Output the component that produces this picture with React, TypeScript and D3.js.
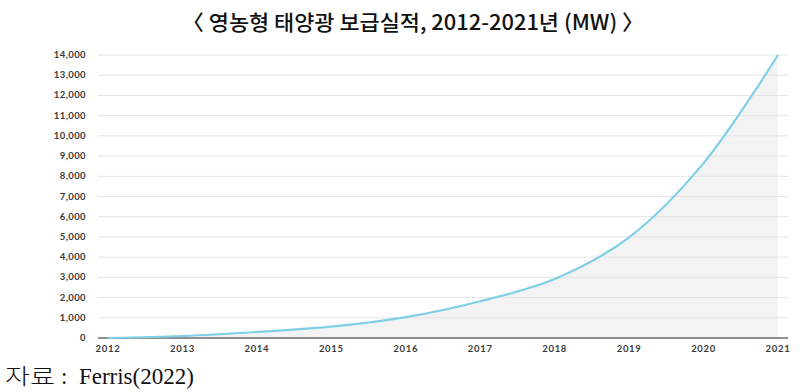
import React, { useEffect, useRef } from 'react';
import * as d3 from 'd3';

const years = [2012, 2013, 2014, 2015, 2016, 2017, 2018, 2019, 2020, 2021];
const capacity = [0, 100, 300, 560, 1030, 1820, 2920, 4980, 8650, 14000];
const yTicks = [0, 1000, 2000, 3000, 4000, 5000, 6000, 7000, 8000, 9000, 10000, 11000, 12000, 13000, 14000];
const titleText = '〈 영농형 태양광 보급실적, 2012-2021년 (MW) 〉';
const sourceLabel = '자료';
const sourceRef = ':  Ferris(2022)';

export default function App(): JSX.Element {
  const svgRef = useRef<SVGSVGElement>(null);

  useEffect(() => {
    const svgEle = svgRef.current;
    if (svgEle == null) {
      return;
    }
    const svg = d3.select(svgEle);
    svg.selectAll('*').remove();

    const W = 800;
    const H = 392;
    const plot = { left: 98, right: 788, top: 55, bottom: 338 };

    const x = d3.scaleLinear().domain([2012, 2021]).range([108, 778]);
    const y = d3.scaleLinear().domain([0, 14000]).range([plot.bottom, plot.top]);

    svg.attr('width', W).attr('height', H);
    svg.append('rect').attr('width', W).attr('height', H).attr('fill', '#ffffff');

    // title
    svg
      .append('text')
      .attr('x', 413)
      .attr('y', 30)
      .attr('text-anchor', 'middle')
      .attr('font-family', '"Noto Sans CJK KR", sans-serif')
      .attr('font-weight', 500)
      .attr('font-size', 21)
      .attr('fill', '#111')
      .attr('textLength', 462)
      .attr('lengthAdjust', 'spacingAndGlyphs')
      .text(titleText);

    const grid = yTicks.filter((d) => d > 0);
    const pts = years.map((yr, i) => ({ yr, v: capacity[i] }));

    // area under curve
    const area = d3
      .area<{ yr: number; v: number }>()
      .x((d) => x(d.yr))
      .y0(y(0))
      .y1((d) => y(d.v))
      .curve(d3.curveCatmullRom.alpha(0.5));
    svg.append('path').datum(pts).attr('d', area).attr('fill', '#f3f3f3');

    // gridlines
    svg
      .append('g')
      .selectAll('line')
      .data(grid)
      .enter()
      .append('line')
      .attr('x1', plot.left)
      .attr('x2', plot.right)
      .attr('y1', (d) => y(d))
      .attr('y2', (d) => y(d))
      .attr('stroke', '#e4e4e4')
      .attr('stroke-width', 1);

    // base axis
    svg
      .append('line')
      .attr('x1', plot.left)
      .attr('x2', plot.right)
      .attr('y1', y(0))
      .attr('y2', y(0))
      .attr('stroke', '#6b6b6b')
      .attr('stroke-width', 1.3);

    // curve
    const line = d3
      .line<{ yr: number; v: number }>()
      .x((d) => x(d.yr))
      .y((d) => y(d.v))
      .curve(d3.curveCatmullRom.alpha(0.5));
    svg
      .append('path')
      .datum(pts)
      .attr('d', line)
      .attr('fill', 'none')
      .attr('stroke', '#7fd0e6')
      .attr('stroke-width', 2.2);

    // y tick labels
    svg
      .append('g')
      .selectAll('text')
      .data(yTicks)
      .enter()
      .append('text')
      .attr('x', 86)
      .attr('y', (d) => y(d) + 3)
      .attr('text-anchor', 'end')
      .attr('font-family', 'Lato, "Open Sans", sans-serif')
      .attr('font-weight', 'bold')
      .attr('font-size', 9.5)
      .attr('letter-spacing', 0.4)
      .attr('fill', '#3a3a3a')
      .text((d) => d3.format(',')(d));

    // x tick labels
    svg
      .append('g')
      .selectAll('text')
      .data(years)
      .enter()
      .append('text')
      .attr('x', (d) => x(d))
      .attr('y', 352)
      .attr('text-anchor', 'middle')
      .attr('font-family', 'Lato, "Open Sans", sans-serif')
      .attr('font-weight', 'bold')
      .attr('font-size', 9.5)
      .attr('fill', '#3a3a3a')
      .attr('letter-spacing', 0.7)
      .text((d) => String(d));

    // source
    svg
      .append('text')
      .attr('x', 5)
      .attr('y', 384)
      .attr('font-family', '"Noto Sans CJK KR", sans-serif')
      .attr('font-weight', 300)
      .attr('font-size', 22)
      .attr('fill', '#111')
      .attr('textLength', 50)
      .attr('lengthAdjust', 'spacingAndGlyphs')
      .text(sourceLabel);
    svg
      .append('text')
      .attr('x', 61)
      .attr('y', 384)
      .attr('font-family', '"Liberation Serif", "DejaVu Serif", serif')
      .attr('font-size', 23)
      .attr('fill', '#111')
      .attr('xml:space', 'preserve')
      .text(sourceRef);
  });

  return (
    <div style={{ position: 'absolute', left: 0, top: 0, width: 800, height: 392 }}>
      <svg ref={svgRef} style={{ display: 'block' }} />
    </div>
  );
}
